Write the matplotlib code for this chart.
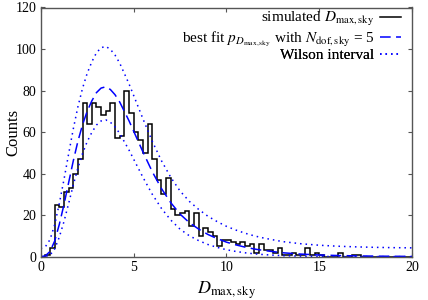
import numpy as np
import matplotlib
matplotlib.use("Agg")
import matplotlib.pyplot as plt

plt.rcParams['font.family'] = ['Liberation Serif', 'DejaVu Serif']
plt.rcParams['mathtext.fontset'] = 'stix'

# Histogram of simulated D_max,sky (bin width 0.25, from 0 to 20)
bin_width = 0.25
counts = [0, 1, 4, 25, 24, 31, 33, 40, 47, 74,
          64, 74, 72, 68, 70, 74, 57, 58, 80, 69,
          60, 56, 50, 64, 47, 37, 30, 38, 23, 20,
          21, 22, 15, 21, 10, 14, 12, 10, 5, 8,
          8, 7, 6, 7, 5, 6, 2, 6, 3, 3,
          2, 4, 1, 1, 2, 1, 1, 4, 1, 2,
          1, 0, 0, 0, 2, 0, 0, 1, 1, 0,
          0, 0, 0, 0, 0, 0, 0, 0, 0, 0]

# Best-fit curve
fit_D = [0.0, 0.25, 0.5, 0.75, 1.0, 1.25, 1.5, 1.75, 2.0, 2.25, 2.5, 2.75,
         3.0, 3.25, 3.5, 3.75, 4.0, 4.25, 4.5, 4.75, 5.0, 5.5, 6.0, 6.5,
         7.0, 7.5, 8.0, 8.5, 9.0, 9.5, 10.0, 10.5, 11.0, 11.5, 12.0, 13.0,
         14.0, 15.0, 16.0, 17.0, 18.0, 19.0, 20.0]
fit_counts = [0.0, 0.4, 2.5, 7.5, 15.5, 25, 35.5, 46, 55.5, 63.5, 70, 75,
              79, 81.2, 81.8, 80.5, 78, 74.5, 70, 65.5, 60.5, 50.5, 41, 32.8,
              26, 20.5, 16.4, 13.3, 10.7, 8.7, 7.0, 5.7, 4.6, 3.7, 3.0, 1.9,
              1.25, 0.82, 0.55, 0.38, 0.26, 0.18, 0.13]

z_wilson = 2.0

labels = [r'simulated $D_{\rm max,sky}$',
          r'best fit $p_{D_{\rm max,sky}}$ with $N_{\rm dof,sky}$ = 5',
          'Wilson interval']

counts = np.array(counts, dtype=float)
edges = np.arange(len(counts) + 1) * bin_width
fit_D = np.array(fit_D)
fit_counts = np.array(fit_counts)

# Wilson score interval around the best-fit expected counts
N = counts.sum()
p = fit_counts / N
z2 = z_wilson ** 2
denom = 1 + z2 / N
center = (p + z2 / (2 * N)) / denom
half = z_wilson / denom * np.sqrt(p * (1 - p) / N + z2 / (4 * N ** 2))
upper = (center + half) * N
lower = (center - half) * N

fig = plt.figure(figsize=(4.28, 3.0), dpi=100)
ax = fig.add_axes([0.0951, 0.1444, 0.8682, 0.8306])

h1 = ax.stairs(counts, edges, color='black', lw=1.1)
h2, = ax.plot(fit_D, fit_counts, color='blue', lw=1.1, dashes=(7, 3.5))
h3, = ax.plot(fit_D, upper, color='blue', lw=1.1, linestyle=(0, (1, 2.6)))
ax.plot(fit_D, lower, color='blue', lw=1.1, linestyle=(0, (1, 2.6)))

ax.set_xlim(0, 20)
ax.set_ylim(0, 120)
ax.set_xticks([0, 5, 10, 15, 20])
ax.set_yticks([0, 20, 40, 60, 80, 100, 120])
ax.tick_params(direction='in', top=True, right=True, labelsize=10,
               length=3, color='#555555', pad=3)
for s in ax.spines.values():
    s.set_color('#555555')
    s.set_linewidth(1.0)

ax.set_xlabel(r'$D_{\rm max,sky}$', fontsize=13, labelpad=4)
ax.set_ylabel('Counts', fontsize=12)
ax.yaxis.set_label_coords(-0.053, 0.5)

# legend rows placed individually to match the compact spacing
rows = [(h1, labels[0], 0.952, 11.0),
        (h2, labels[1], 0.872, 11.0),
        (h3, labels[2], 0.808, 11.0)]
for h, lab, yy, fs in rows:
    leg = ax.legend([h], [lab], loc='center right', bbox_to_anchor=(0.97, yy),
                    frameon=False, markerfirst=False, fontsize=fs,
                    handlelength=1.4, handletextpad=0.35, borderpad=0,
                    borderaxespad=0)
    ax.add_artist(leg)

fig.savefig('out.png', dpi=100)
